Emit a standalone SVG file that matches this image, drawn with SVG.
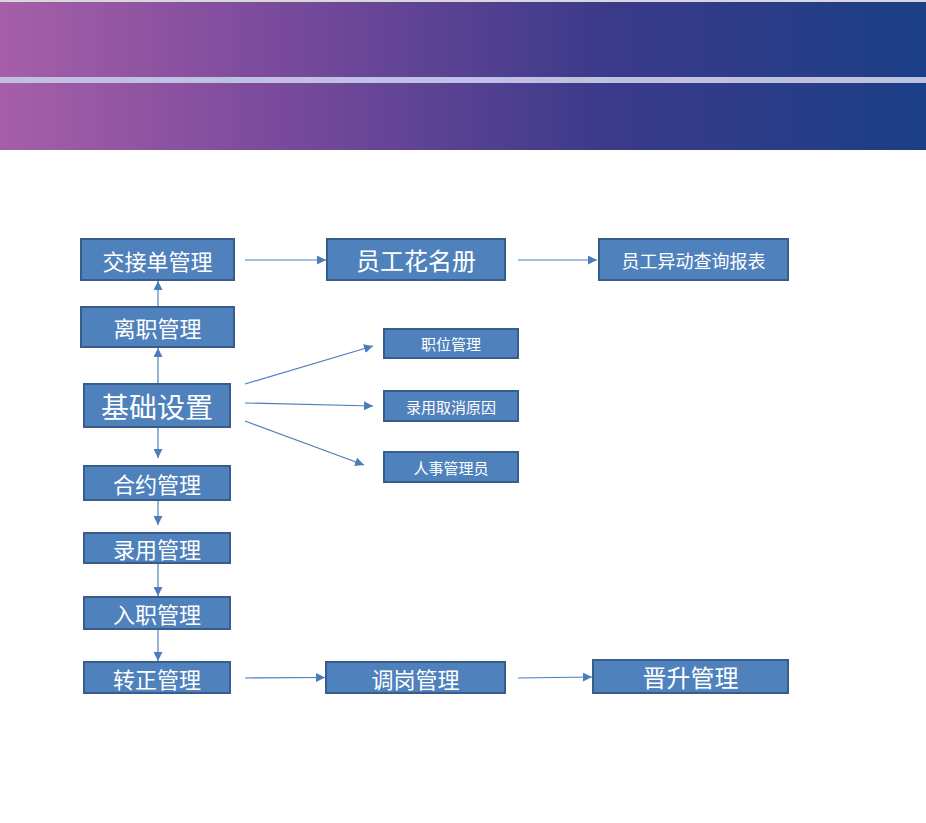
<svg xmlns="http://www.w3.org/2000/svg" width="926" height="823" viewBox="0 0 926 823">
<defs>
<linearGradient id="hg" x1="0" y1="0" x2="1" y2="0">
<stop offset="0" stop-color="#a65fa8"/>
<stop offset="0.3" stop-color="#7a4a9c"/>
<stop offset="0.65" stop-color="#3c3a8a"/>
<stop offset="1" stop-color="#1a3f86"/>
</linearGradient>
<marker id="ar" viewBox="0 0 10 10" refX="10" refY="5" markerWidth="9" markerHeight="9" markerUnits="userSpaceOnUse" orient="auto"><path d="M0,0L10,5L0,10z" fill="#4a7ebb"/></marker>
<style>
.b{fill:#4f81bd;stroke:#385d8a;stroke-width:2}
.t{fill:#fff;font-family:"Noto Sans CJK SC","Liberation Sans",sans-serif;text-anchor:middle;dominant-baseline:central}
.c line{stroke:#4a7ebb;stroke-width:1.2;marker-end:url(#ar)}
</style>
</defs>
<rect width="926" height="823" fill="#fff"/>
<rect x="0" y="2" width="926" height="148" fill="url(#hg)"/>
<rect x="0" y="0" width="926" height="2" fill="#d8d8d8"/>
<rect x="0" y="77" width="926" height="6" fill="#c0c0e2"/>
<g id="n1"><rect class="b" x="81" y="239" width="153" height="41"/><text class="t" x="157.5" y="259.5" font-size="22">交接单管理</text></g>
<g id="n2"><rect class="b" x="327" y="239" width="178" height="41"/><text class="t" x="416" y="259.5" font-size="24">员工花名册</text></g>
<g id="n3"><rect class="b" x="599" y="239" width="189" height="41"/><text class="t" x="693.5" y="259.5" font-size="18">员工异动查询报表</text></g>
<g id="n4"><rect class="b" x="81" y="307" width="153" height="40"/><text class="t" x="157.5" y="327" font-size="22">离职管理</text></g>
<g id="n5"><rect class="b" x="384" y="329" width="134" height="29"/><text class="t" x="451" y="343.5" font-size="15">职位管理</text></g>
<g id="n6"><rect class="b" x="84" y="384" width="146" height="43"/><text class="t" x="157" y="405.5" font-size="28">基础设置</text></g>
<g id="n7"><rect class="b" x="384" y="391" width="134" height="30"/><text class="t" x="451" y="406" font-size="15">录用取消原因</text></g>
<g id="n8"><rect class="b" x="384" y="452" width="134" height="30"/><text class="t" x="451" y="467" font-size="15">人事管理员</text></g>
<g id="n9"><rect class="b" x="84" y="466" width="146" height="34"/><text class="t" x="157" y="483" font-size="22">合约管理</text></g>
<g id="n10"><rect class="b" x="84" y="533" width="146" height="30"/><text class="t" x="157" y="548" font-size="22">录用管理</text></g>
<g id="n11"><rect class="b" x="84" y="597" width="146" height="32"/><text class="t" x="157" y="613" font-size="22">入职管理</text></g>
<g id="n12"><rect class="b" x="84" y="662" width="146" height="31"/><text class="t" x="157" y="677.5" font-size="22">转正管理</text></g>
<g id="n13"><rect class="b" x="326" y="662" width="179" height="31"/><text class="t" x="415.5" y="677.5" font-size="22">调岗管理</text></g>
<g id="n14"><rect class="b" x="593" y="660" width="195" height="33"/><text class="t" x="690.5" y="676.5" font-size="24">晋升管理</text></g>
<g class="c" id="connectors">
<line x1="245" y1="260" x2="326" y2="260"/>
<line x1="518" y1="260" x2="597" y2="260"/>
<line x1="158" y1="306" x2="158" y2="281"/>
<line x1="158" y1="383" x2="158" y2="348"/>
<line x1="158" y1="428" x2="158" y2="458"/>
<line x1="158" y1="501" x2="158" y2="525"/>
<line x1="158" y1="564" x2="158" y2="596"/>
<line x1="158" y1="630" x2="158" y2="661"/>
<line x1="245" y1="678" x2="325" y2="677.5"/>
<line x1="518" y1="678" x2="592" y2="677"/>
<line x1="245" y1="384" x2="373" y2="346"/>
<line x1="245" y1="403" x2="373" y2="406"/>
<line x1="245" y1="421" x2="364" y2="465"/>
</g>
</svg>
